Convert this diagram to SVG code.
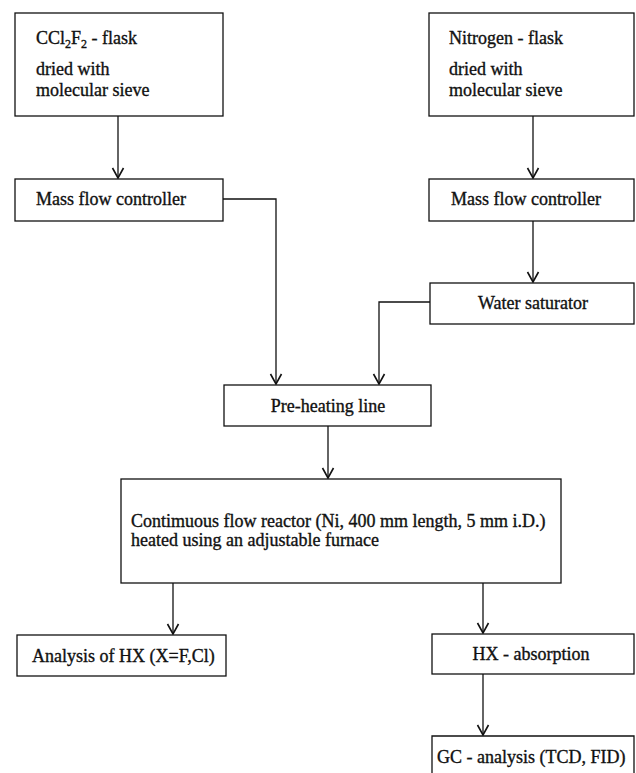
<svg xmlns="http://www.w3.org/2000/svg" width="636" height="773" viewBox="0 0 636 773">
<style>
.box{fill:#fff;stroke:#111;stroke-width:1.3}
.t{font-family:"Liberation Serif","Times New Roman",serif;font-size:18px;fill:#111;stroke:#111;stroke-width:0.35}
.c{text-anchor:middle}
.ln{fill:none;stroke:#111;stroke-width:1.3}
</style>
<defs>
<marker id="arr" viewBox="-1 -7 12 14" markerWidth="12" markerHeight="14" refX="10" refY="0" orient="auto" markerUnits="userSpaceOnUse">
<path d="M0,-5.5 L10,0 L0,5.5" fill="none" stroke="#111" stroke-width="1.6"/>
</marker>
</defs>
<rect width="636" height="773" fill="#fff"/>
<g id="connectors">
<path class="ln" d="M118,116 V178" marker-end="url(#arr)"/>
<path class="ln" d="M533,116 V178" marker-end="url(#arr)"/>
<path class="ln" d="M223,199 H276 V384" marker-end="url(#arr)"/>
<path class="ln" d="M533,221 V282" marker-end="url(#arr)"/>
<path class="ln" d="M430,302 H379 V384" marker-end="url(#arr)"/>
<path class="ln" d="M328,426 V478" marker-end="url(#arr)"/>
<path class="ln" d="M173,583 V634" marker-end="url(#arr)"/>
<path class="ln" d="M483,583 V633" marker-end="url(#arr)"/>
<path class="ln" d="M483,674 V735" marker-end="url(#arr)"/>
</g>
<g id="ccl2f2-flask">
<rect class="box" x="15" y="13" width="208" height="103"/>
<text class="t" x="36" y="44">CCl<tspan font-size="12" dy="4">2</tspan><tspan dy="-4">F</tspan><tspan font-size="12" dy="4">2</tspan><tspan dy="-4"> - flask</tspan></text>
<text class="t" x="36" y="75">dried with</text>
<text class="t" x="36" y="96">molecular sieve</text>
</g>
<g id="nitrogen-flask">
<rect class="box" x="429" y="13" width="205" height="103"/>
<text class="t" x="449" y="44">Nitrogen - flask</text>
<text class="t" x="449" y="75">dried with</text>
<text class="t" x="449" y="96">molecular sieve</text>
</g>
<g id="mfc-left">
<rect class="box" x="15" y="179" width="208" height="42"/>
<text class="t" x="36" y="205">Mass flow controller</text>
</g>
<g id="mfc-right">
<rect class="box" x="429" y="179" width="205" height="42"/>
<text class="t" x="451" y="205">Mass flow controller</text>
</g>
<g id="water-saturator">
<rect class="box" x="430" y="283" width="204" height="41"/>
<text class="t c" x="533" y="309">Water saturator</text>
</g>
<g id="pre-heating">
<rect class="box" x="224" y="385" width="207" height="41"/>
<text class="t c" x="328" y="412">Pre-heating line</text>
</g>
<g id="reactor">
<rect class="box" x="121" y="479" width="440" height="104"/>
<text class="t" x="131" y="527">Contimuous flow reactor (Ni, 400 mm length, 5 mm i.D.)</text>
<text class="t" x="131" y="546">heated using an adjustable furnace</text>
</g>
<g id="analysis-hx">
<rect class="box" x="17" y="635" width="209" height="41"/>
<text class="t" x="32" y="662">Analysis of HX (X=F,Cl)</text>
</g>
<g id="hx-absorption">
<rect class="box" x="432" y="634" width="202" height="40"/>
<text class="t c" x="531" y="660">HX - absorption</text>
</g>
<g id="gc-analysis">
<path class="box" d="M432,780 V736 H634 V780"/>
<text class="t" x="437" y="763">GC - analysis (TCD, FID)</text>
</g>
</svg>
